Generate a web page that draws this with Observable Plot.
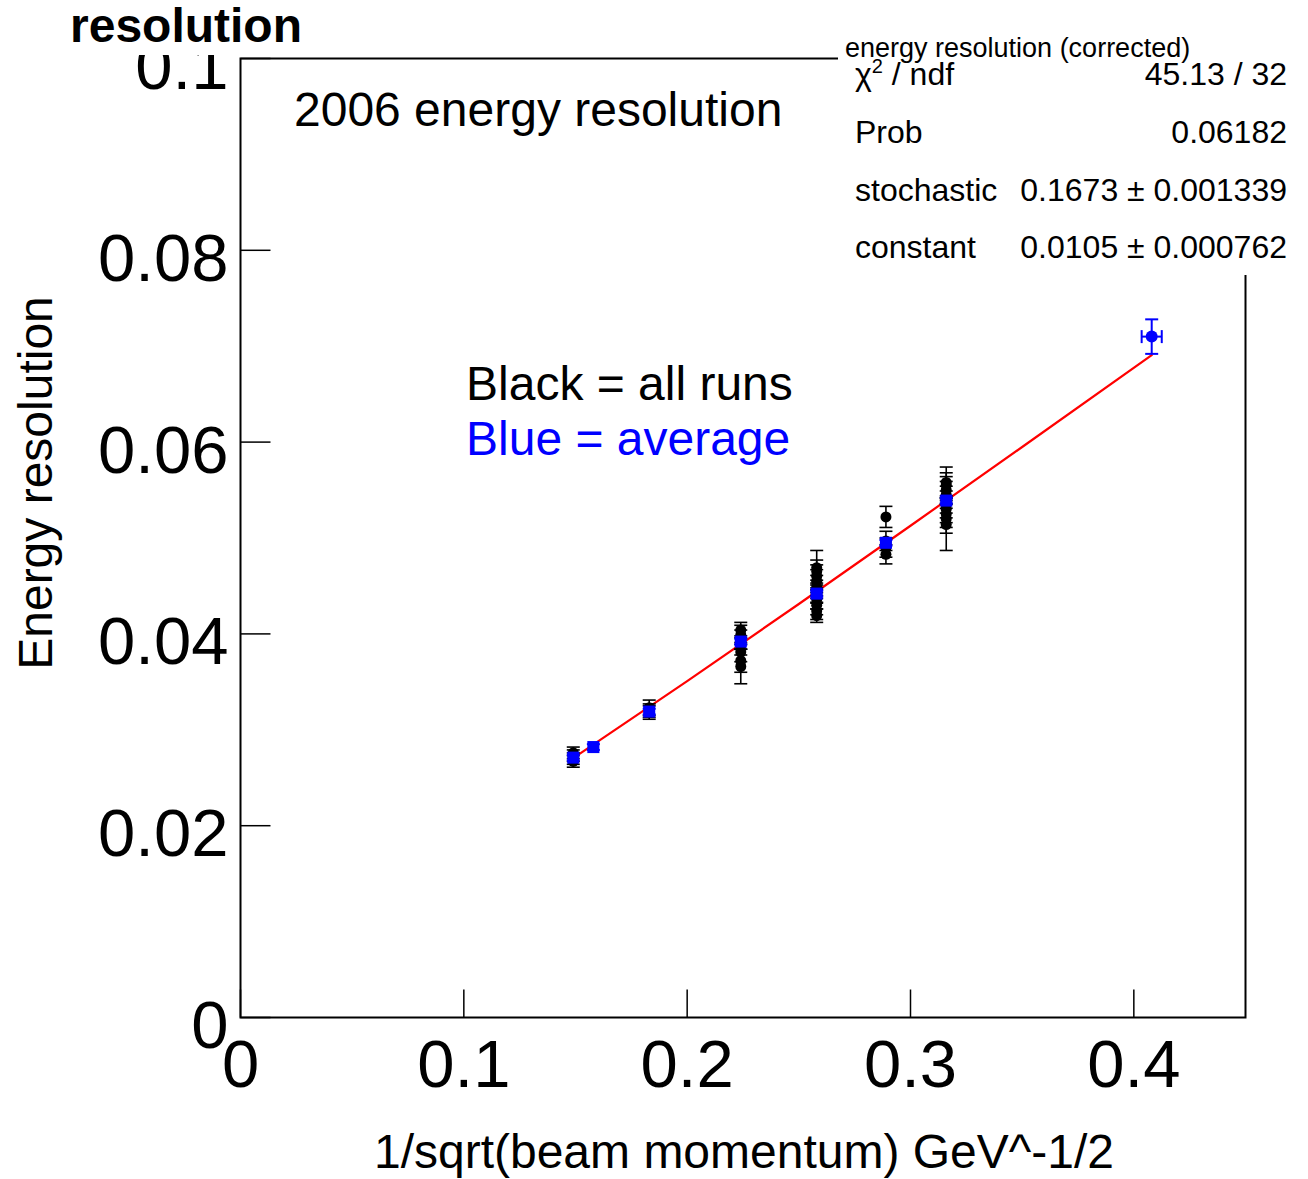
<!DOCTYPE html>
<html><head><meta charset="utf-8">
<script src="https://cdn.jsdelivr.net/npm/d3@7"></script>
<script src="https://cdn.jsdelivr.net/npm/@observablehq/plot@0.6"></script>
<style>html,body{margin:0;padding:0;background:#fff;overflow:hidden} svg{display:block}</style>
</head><body><div id="chart"></div>
<script>
// ---- data ----
// x = 1/sqrt(beam momentum), one entry per run
const runX = [
  0.149, 0.149, 0.149, 0.149,
  0.183, 0.183, 0.183,
  0.224, 0.224, 0.224, 0.224, 0.224, 0.224, 0.224,
  0.258, 0.258, 0.258, 0.258, 0.258, 0.258, 0.258, 0.258, 0.258, 0.258,
  0.289, 0.289, 0.289, 0.289,
  0.316, 0.316, 0.316, 0.316, 0.316, 0.316, 0.316, 0.316, 0.316, 0.316
];
const runRes = [
  0.0276, 0.0273, 0.0270, 0.0267,
  0.0323, 0.0320, 0.0318,
  0.0404, 0.0399, 0.0394, 0.0388, 0.0381, 0.0372, 0.0366,
  0.0469, 0.0465, 0.0460, 0.0455, 0.0449, 0.0444, 0.0436, 0.0430, 0.0424, 0.0419,
  0.0522, 0.0497, 0.0490, 0.0483,
  0.0558, 0.0555, 0.0550, 0.0545, 0.0540, 0.0535, 0.0530, 0.0525, 0.0520, 0.0514
];
const runErr = [
  0.0006, 0.0006, 0.0006, 0.0006,
  0.0008, 0.0007, 0.0007,
  0.0008, 0.0010, 0.0010, 0.0010, 0.0010, 0.0012, 0.0018,
  0.0018, 0.0012, 0.0012, 0.0012, 0.0012, 0.0012, 0.0010, 0.0010, 0.0009, 0.0007,
  0.0011, 0.0010, 0.0010, 0.0010,
  0.0016, 0.0013, 0.0014, 0.0014, 0.0014, 0.0014, 0.0014, 0.0014, 0.0015, 0.0027
];
// averages (blue)
const avgX    = [0.149, 0.158, 0.183, 0.224, 0.258, 0.289, 0.316, 0.408];
const avgRes  = [0.0271, 0.0282, 0.0319, 0.0392, 0.0442, 0.0495, 0.0539, 0.0710];
const avgErr  = [0.0003, 0.0003, 0.0003, 0.0003, 0.0003, 0.0003, 0.0003, 0.0018];
const avgXErr = [0, 0, 0, 0, 0, 0, 0, 0.0045];
// fitted curve (red)
const fitX = [0.149, 0.200, 0.250, 0.300, 0.350, 0.408];
const fitY = [0.02704, 0.03507, 0.04312, 0.05128, 0.05949, 0.06906];
// ticks
const xTicks = [0, 0.1, 0.2, 0.3, 0.4];
const xTickLabels = ["0", "0.1", "0.2", "0.3", "0.4"];
const yTicks = [0, 0.02, 0.04, 0.06, 0.08, 0.1];
const yTickLabels = ["0", "0.02", "0.04", "0.06", "0.08", "0.1"];
// texts
const titleText = "resolution";
const xTitle = "1/sqrt(beam momentum) GeV^-1/2";
const yTitle = "Energy resolution";
const plotLabel = "2006 energy resolution";
const legendBlack = "Black = all runs";
const legendBlue = "Blue = average";
const statsTitle = "energy resolution (corrected)";
const statsNames = ["ndf", "Prob", "stochastic", "constant"];
const statsValues = ["45.13 / 32", "0.06182", "0.1673 \u00b1 0.001339", "0.0105 \u00b1 0.000762"];

// ---- build ----
const FONT = "'Liberation Sans', Arial, Helvetica, sans-serif";
const runs = runX.map((x, i) => ({x, y: runRes[i], e: runErr[i]}));
const avgs = avgX.map((x, i) => ({x, y: avgRes[i], e: avgErr[i], ex: avgXErr[i]}));
const avgsXe = avgs.filter(d => d.ex > 0);
const fit = fitX.map((x, i) => ({x, y: fitY[i]}));

const hcap = {draw(ctx, size) { const w = Math.sqrt(size / Math.PI); ctx.moveTo(-w, 0); ctx.lineTo(w, 0); }};
const vcap = {draw(ctx, size) { const w = Math.sqrt(size / Math.PI); ctx.moveTo(0, -w); ctx.lineTo(0, w); }};
// inward tick marks as line-shaped symbols
const tickUp = {draw(ctx) { ctx.moveTo(0, 0); ctx.lineTo(0, -28); }};
const tickRight = {draw(ctx) { ctx.moveTo(0, 0); ctx.lineTo(30, 0); }};

const chart = Plot.plot({
  width: 1308, height: 1179,
  marginLeft: 240, marginRight: 63, marginTop: 58, marginBottom: 162,
  style: {fontFamily: FONT, background: "white", color: "black"},
  x: {domain: [0, 0.45]},
  y: {domain: [0, 0.1]},
  marks: [
    Plot.frame({stroke: "black", strokeWidth: 2}),
    Plot.dot(xTicks, {x: d => d, y: 0, symbol: tickUp, stroke: "black", strokeWidth: 1.5}),
    Plot.dot(yTicks, {x: 0, y: d => d, symbol: tickRight, stroke: "black", strokeWidth: 1.5}),
    // tick labels
    Plot.axisX(xTicks, {tickSize: 0, tickPadding: 22, fontSize: 67, label: null,
      tickFormat: d => xTickLabels[xTicks.indexOf(d)]}),
    Plot.axisY(yTicks, {tickSize: 0, tickPadding: 12, fontSize: 67, label: null, dy: 9,
      tickFormat: d => yTickLabels[yTicks.indexOf(d)]}),
    // fit
    Plot.line(fit, {x: "x", y: "y", stroke: "#ff0000", strokeWidth: 2.2}),
    // runs (black)
    Plot.link(runs, {x1: "x", x2: "x", y1: d => d.y - d.e, y2: d => d.y + d.e, stroke: "black", strokeWidth: 1.6}),
    Plot.dot(runs, {x: "x", y: d => d.y + d.e, symbol: hcap, r: 6.5, stroke: "black", strokeWidth: 1.6}),
    Plot.dot(runs, {x: "x", y: d => d.y - d.e, symbol: hcap, r: 6.5, stroke: "black", strokeWidth: 1.6}),
    Plot.dot(runs, {x: "x", y: "y", r: 5.5, fill: "black"}),
    // averages (blue)
    Plot.link(avgs, {x1: "x", x2: "x", y1: d => d.y - d.e, y2: d => d.y + d.e, stroke: "blue", strokeWidth: 2}),
    Plot.dot(avgs, {x: "x", y: d => d.y + d.e, symbol: hcap, r: 6.5, stroke: "blue", strokeWidth: 2}),
    Plot.dot(avgs, {x: "x", y: d => d.y - d.e, symbol: hcap, r: 6.5, stroke: "blue", strokeWidth: 2}),
    Plot.link(avgsXe, {x1: d => d.x - d.ex, x2: d => d.x + d.ex, y1: "y", y2: "y", stroke: "blue", strokeWidth: 2}),
    Plot.dot(avgsXe, {x: d => d.x - d.ex, y: "y", symbol: vcap, r: 6.5, stroke: "blue", strokeWidth: 2}),
    Plot.dot(avgsXe, {x: d => d.x + d.ex, y: "y", symbol: vcap, r: 6.5, stroke: "blue", strokeWidth: 2}),
    Plot.dot(avgs.filter(d => !(d.ex > 0)), {x: "x", y: "y", r: 6.8, symbol: "square", fill: "blue"}),
    Plot.dot(avgsXe, {x: "x", y: "y", r: 6, fill: "blue"})
  ]
});
document.getElementById("chart").appendChild(chart);

// ---- annotations ----
const svg = d3.select(chart);
const addText = (x, y, str, size, opts = {}) => svg.append("text")
  .attr("x", x).attr("y", y).attr("text-anchor", opts.anchor || "start")
  .attr("font-family", FONT).attr("font-size", size).attr("font-weight", opts.weight || "normal")
  .attr("fill", opts.fill || "black").text(str);

// title box (clips the top tick label like the original)
svg.append("rect").attr("x", 60).attr("y", 0).attr("width", 175).attr("height", 55).attr("fill", "white");
addText(70, 42, titleText, 48, {weight: "bold"});

// axis titles
svg.append("text").attr("transform", "translate(52,483) rotate(-90)").attr("text-anchor", "middle")
  .attr("font-family", FONT).attr("font-size", 48).attr("fill", "black").text(yTitle);
addText(744, 1168, xTitle, 48, {anchor: "middle"});

// in-plot labels
addText(294, 126, plotLabel, 48);
addText(466, 400, legendBlack, 48);
addText(466, 455, legendBlue, 48, {fill: "blue"});

// stats box
svg.append("rect").attr("x", 838).attr("y", 28).attr("width", 470).attr("height", 247).attr("fill", "white");
addText(845, 57, statsTitle, 27);
const rowY = [85, 143, 201, 258];
statsNames.forEach((name, i) => {
  if (i === 0) {
    const t = addText(855, rowY[i], "", 32);
    t.append("tspan").text("\u03c7");
    t.append("tspan").attr("dy", -12).attr("font-size", 20).text("2");
    t.append("tspan").attr("dy", 12).text(" / " + name);
  } else {
    addText(855, rowY[i], name, 32);
  }
  addText(1287, rowY[i], statsValues[i], 32, {anchor: "end"});
});
</script>
</body></html>
